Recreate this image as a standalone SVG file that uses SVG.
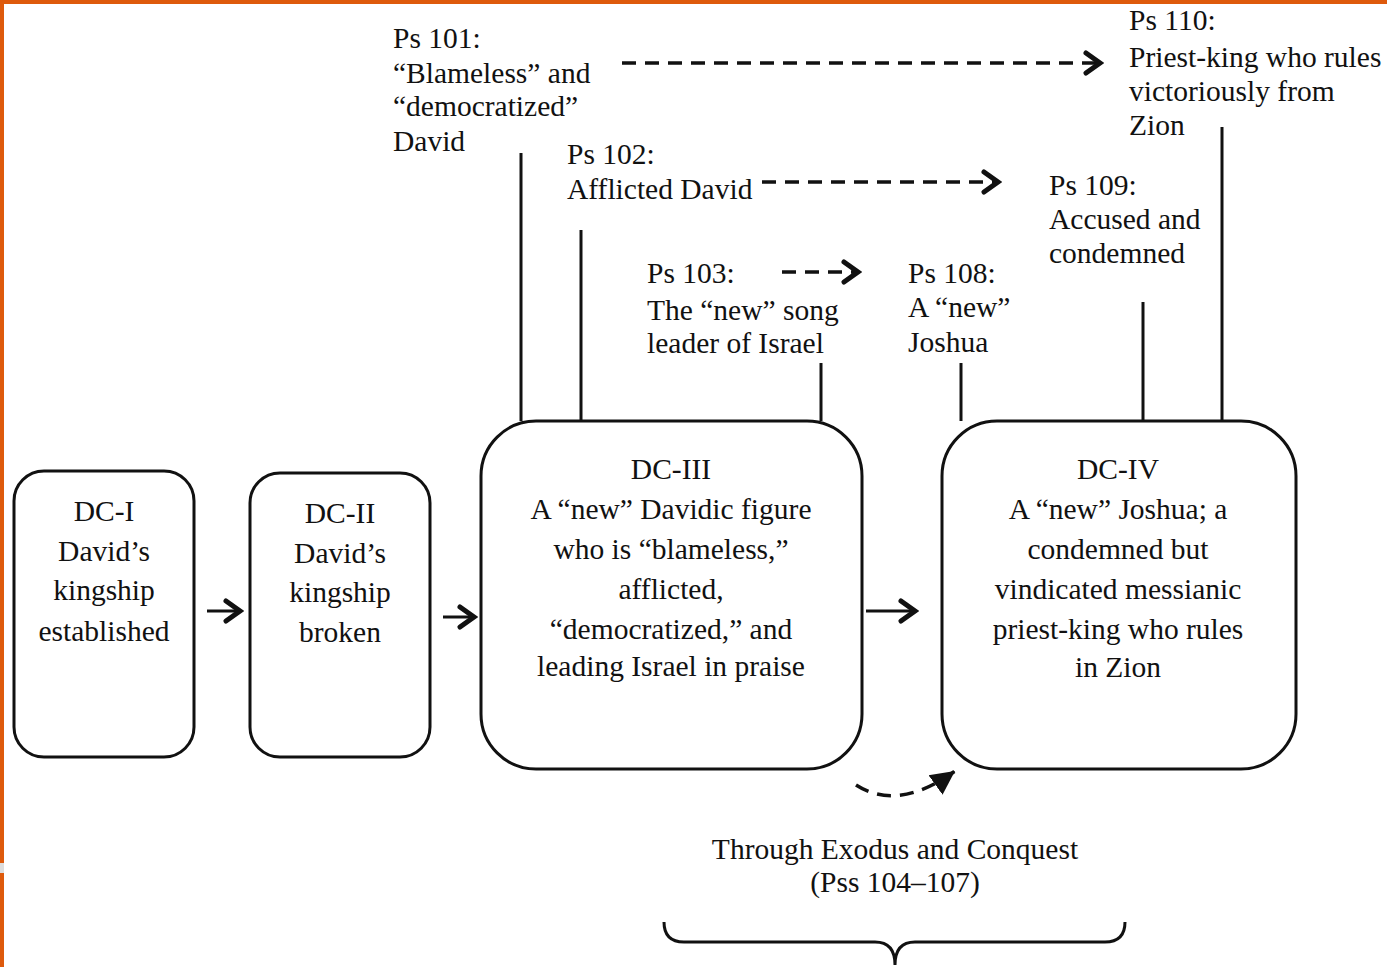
<svg xmlns="http://www.w3.org/2000/svg" width="1387" height="967" viewBox="0 0 1387 967">
<defs>
<style>
text{font-family:"Liberation Serif","Times New Roman",serif;font-size:29.5px;fill:#111}
.c{text-anchor:middle}
.box{fill:#fff;stroke:#111;stroke-width:3}
.ln{stroke:#111;stroke-width:3;fill:none}
.dash{stroke:#111;stroke-width:3.5;fill:none;stroke-dasharray:14 9}
</style>
<marker id="chev" markerUnits="userSpaceOnUse" viewBox="0 0 22 28" refX="18" refY="14" markerWidth="22" markerHeight="28" orient="auto">
<path d="M4,4 L18,14 L4,24" fill="none" stroke="#111" stroke-width="5" stroke-linecap="round" stroke-linejoin="miter"/>
</marker>
<marker id="tri" markerUnits="userSpaceOnUse" viewBox="0 0 26 26" refX="24" refY="13" markerWidth="26" markerHeight="26" orient="auto">
<path d="M0,1 L24,13 L0,25 Z" fill="#111"/>
</marker>
</defs>
<rect width="1387" height="967" fill="#fff"/>
<rect x="0" y="0" width="1387" height="4" fill="#DE5A0C"/>
<rect x="0" y="0" width="4" height="967" fill="#DE5A0C"/>
<rect x="0" y="863" width="4" height="10" fill="#ddd"/>

<g id="connectors">
<line class="ln" x1="521" y1="153" x2="521" y2="421"/>
<line class="ln" x1="581" y1="230" x2="581" y2="421"/>
<line class="ln" x1="821" y1="363" x2="821" y2="421"/>
<line class="ln" x1="961" y1="363" x2="961" y2="421"/>
<line class="ln" x1="1143" y1="302" x2="1143" y2="421"/>
<line class="ln" x1="1222" y1="127" x2="1222" y2="421"/>
<line class="dash" x1="622" y1="63" x2="1100" y2="63" marker-end="url(#chev)"/>
<line class="dash" x1="762" y1="182" x2="998" y2="182" marker-end="url(#chev)"/>
<line class="dash" x1="782" y1="272" x2="858" y2="272" marker-end="url(#chev)"/>
<line class="ln" x1="207" y1="611" x2="240" y2="611" marker-end="url(#chev)"/>
<line class="ln" x1="443" y1="617" x2="474" y2="617" marker-end="url(#chev)"/>
<line class="ln" x1="866" y1="611" x2="915" y2="611" marker-end="url(#chev)"/>
<path class="dash" d="M856,785 Q898,812 955,771" stroke-dasharray="12 9" marker-end="url(#tri)"/>
<path class="ln" d="M664,922 Q664,942 684,942 L875,942 Q895,942 895,965 Q895,942 915,942 L1105,942 Q1125,942 1125,922"/>
</g>

<g id="dc1">
<rect class="box" x="14" y="471" width="180" height="286" rx="30"/>
<text class="c" x="104" y="521">DC-I</text>
<text class="c" x="104" y="561">David’s</text>
<text class="c" x="104" y="600">kingship</text>
<text class="c" x="104" y="641">established</text>
</g>
<g id="dc2">
<rect class="box" x="250" y="473" width="180" height="284" rx="30"/>
<text class="c" x="340" y="523">DC-II</text>
<text class="c" x="340" y="563">David’s</text>
<text class="c" x="340" y="602">kingship</text>
<text class="c" x="340" y="642">broken</text>
</g>
<g id="dc3">
<rect class="box" x="481" y="421" width="381" height="348" rx="55"/>
<text class="c" x="671" y="479">DC-III</text>
<text class="c" x="671" y="519">A “new” Davidic figure</text>
<text class="c" x="671" y="559">who is “blameless,”</text>
<text class="c" x="671" y="599">afflicted,</text>
<text class="c" x="671" y="639">“democratized,” and</text>
<text class="c" x="671" y="676">leading Israel in praise</text>
</g>
<g id="dc4">
<rect class="box" x="942" y="421" width="354" height="348" rx="55"/>
<text class="c" x="1118" y="479">DC-IV</text>
<text class="c" x="1118" y="519">A “new” Joshua; a</text>
<text class="c" x="1118" y="559">condemned but</text>
<text class="c" x="1118" y="599">vindicated messianic</text>
<text class="c" x="1118" y="639">priest-king who rules</text>
<text class="c" x="1118" y="677">in Zion</text>
</g>
<g id="ps101">
<text x="393" y="48">Ps 101:</text>
<text x="393" y="83">“Blameless” and</text>
<text x="393" y="116">“democratized”</text>
<text x="393" y="151">David</text>
</g>
<g id="ps102">
<text x="567" y="164">Ps 102:</text>
<text x="567" y="199">Afflicted David</text>
</g>
<g id="ps103">
<text x="647" y="283">Ps 103:</text>
<text x="647" y="320">The “new” song</text>
<text x="647" y="353">leader of Israel</text>
</g>
<g id="ps108">
<text x="908" y="283">Ps 108:</text>
<text x="908" y="317">A “new”</text>
<text x="908" y="352">Joshua</text>
</g>
<g id="ps109">
<text x="1049" y="195">Ps 109:</text>
<text x="1049" y="229">Accused and</text>
<text x="1049" y="263">condemned</text>
</g>
<g id="ps110">
<text x="1129" y="30">Ps 110:</text>
<text x="1129" y="67">Priest-king who rules</text>
<text x="1129" y="101">victoriously from</text>
<text x="1129" y="135">Zion</text>
</g>
<g id="exodus">
<text class="c" x="895" y="859">Through Exodus and Conquest</text>
<text class="c" x="895" y="892">(Pss 104–107)</text>
</g>
</svg>
